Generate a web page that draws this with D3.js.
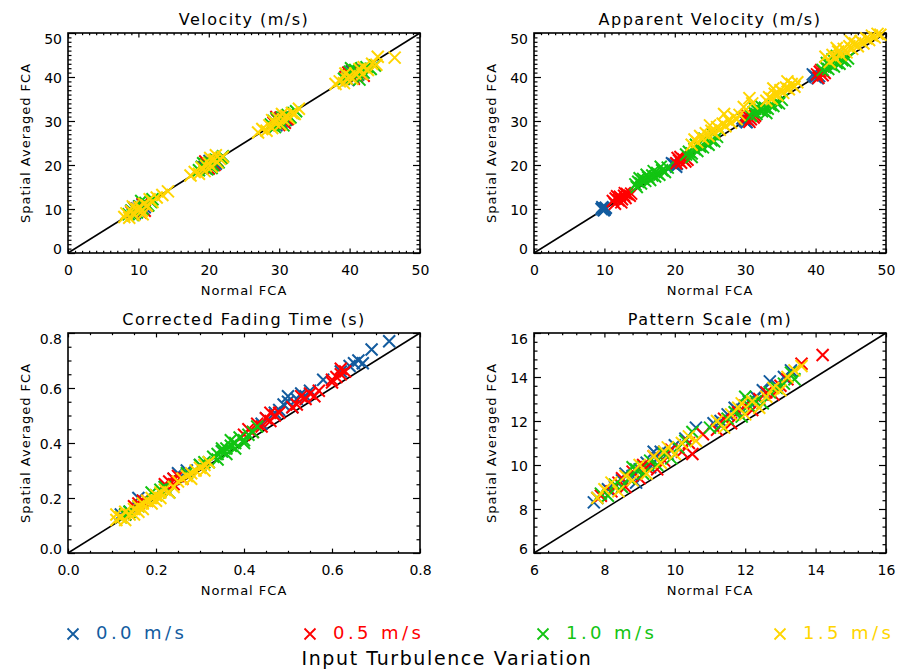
<!DOCTYPE html>
<html><head><meta charset="utf-8">
<script src="https://cdn.jsdelivr.net/npm/d3@7"></script>
<style>
body{margin:0;background:#fff}
svg{display:block}
text{font-family:"DejaVu Sans",sans-serif;fill:#000}
</style>
</head><body>
<svg id="chart" width="898" height="672"></svg>
<script>
// ---------- DATA ----------
const seriesLabels = ["0.0 m/s", "0.5 m/s", "1.0 m/s", "1.5 m/s"];
const seriesColors = ["#135c9f", "#ff0000", "#12c412", "#ffd500"];
const panelTitles = ["Velocity (m/s)", "Apparent Velocity (m/s)", "Corrected Fading Time (s)", "Pattern Scale (m)"];
const xAxisTitle = "Normal FCA";
const yAxisTitle = "Spatial Averaged FCA";
const legendTitle = "Input Turbulence Variation";
const velTicks = [0, 10, 20, 30, 40, 50];
const fadTicks = [0.0, 0.2, 0.4, 0.6, 0.8];
const patTicks = [6, 8, 10, 12, 14, 16];

// Velocity panel
const vel0 = [[9.2,9.4],[9.8,10.1],[10.3,10.0],[10.6,10.9],[9.5,9.0],[10.9,10.4],[10.1,10.6],[9.0,9.6],
 [19.4,19.6],[19.9,20.2],[20.4,19.8],[20.8,20.7],[20.1,20.9],[19.6,19.2],[21.0,20.3],
 [29.3,29.6],[29.8,30.2],[30.3,29.8],[30.7,30.9],[30.2,30.6],[29.6,29.0],[31.0,30.3],
 [39.5,39.8],[40.0,40.4],[40.5,40.0],[40.9,41.0],[40.3,41.3],[39.8,39.3],[41.2,40.5]];
const vel1 = [[9.0,9.3],[9.6,9.8],[10.2,10.4],[10.6,11.2],[10.9,9.6],[10.3,9.2],[11.2,10.8],[9.4,10.3],
 [19.2,19.4],[19.7,20.2],[20.3,20.6],[20.8,20.0],[21.2,21.0],[20.0,19.2],[19.5,20.8],
 [29.2,29.6],[29.7,30.3],[30.2,30.8],[30.8,29.6],[31.2,30.4],[30.0,29.1],[29.6,30.9],
 [39.4,40.0],[40.0,40.6],[40.4,41.6],[41.0,40.2],[41.5,40.9],[42.0,40.3],[40.6,39.6],[39.8,41.0]];
const vel2 = [[8.6,8.8],[9.0,9.6],[9.4,10.2],[9.8,9.2],[10.2,10.6],[10.6,10.0],[11.0,11.4],[11.4,10.8],[11.8,11.6],[9.2,8.6],[10.4,11.8],[12.0,12.2],
 [18.6,18.8],[19.0,19.6],[19.5,20.2],[19.8,19.0],[20.2,20.6],[20.6,20.0],[21.0,21.2],[21.4,20.6],[21.8,21.6],[19.2,20.4],[20.4,19.3],[22.0,22.0],
 [28.8,29.2],[29.2,30.0],[29.6,30.6],[30.0,29.4],[30.4,30.8],[30.8,30.2],[31.2,31.4],[31.6,30.8],[32.0,31.8],[29.4,28.6],[30.6,29.0],[32.4,32.2],
 [39.2,39.6],[39.6,40.4],[40.0,41.2],[40.4,39.8],[40.8,41.6],[41.2,40.6],[41.6,41.8],[42.0,41.0],[42.4,42.2],[40.2,42.0],[43.0,41.8],[43.6,42.6],[41.4,39.4]];
const vel3 = [[8.0,8.2],[8.3,9.0],[8.7,8.0],[9.0,9.5],[9.4,8.6],[9.8,10.0],[10.2,10.4],[10.5,9.6],[10.8,11.2],[11.2,10.8],[11.6,12.2],[12.0,11.6],[12.6,12.6],[13.4,13.2],[14.2,14.0],[9.2,10.6],[10.6,8.8],
 [17.4,17.6],[18.0,18.4],[18.6,18.0],[19.0,19.4],[19.6,19.8],[20.0,20.4],[20.4,19.6],[20.8,21.2],[21.2,20.6],[21.6,21.4],[22.0,21.8],[20.2,21.6],[19.4,18.6],[21.0,22.2],
 [27.0,27.4],[27.6,28.2],[28.2,27.8],[28.6,29.0],[29.0,28.4],[29.4,29.6],[29.8,30.6],[30.2,29.2],[30.6,30.4],[31.0,31.2],[31.4,30.6],[31.8,31.8],[32.2,31.6],[32.8,32.8],[29.0,30.2],[30.4,31.6],
 [38.0,38.4],[38.6,39.0],[39.2,38.6],[39.6,39.6],[40.0,40.2],[40.4,39.6],[40.8,40.8],[41.4,41.8],[42.0,42.2],[42.6,41.6],[43.2,43.0],[43.8,42.8],[44.0,44.6],[46.4,44.4],[41.8,40.6],[39.4,40.8]];

// Apparent velocity panel
const app0 = [[9.6,10.0],[9.8,10.2],[10.0,9.8],[10.1,10.1],[9.9,9.7],[10.2,10.3],[9.7,10.4],
 [19.8,20.2],[20.0,20.0],[20.2,19.6],[19.6,20.4],[20.3,20.3],
 [29.8,30.4],[30.0,30.0],[30.2,29.7],[29.6,30.6],[30.4,30.2],
 [39.8,40.3],[40.0,40.0],[40.3,39.7],[39.6,40.6],[40.5,40.2]];
const app1 = [[11.2,11.8],[11.6,12.4],[12.0,12.0],[12.2,12.8],[12.5,12.2],[12.8,13.0],[13.0,12.5],[13.2,13.4],[11.8,12.9],[12.4,11.5],[13.6,13.0],[11.5,11.2],[12.9,13.6],[13.8,13.5],
 [20.2,20.4],[20.6,21.0],[20.9,20.5],[21.2,21.3],[21.5,20.8],[20.4,21.6],[21.8,21.2],[20.8,21.8],
 [30.0,30.6],[30.4,31.0],[30.8,30.4],[31.2,30.8],[30.6,29.8],[31.4,31.2],[30.2,31.4],
 [40.2,40.6],[40.6,41.2],[41.0,40.4],[41.3,40.9],[40.4,39.8],[40.8,41.6]];
const app2 = [[14.4,15.6],[14.8,16.2],[15.2,15.8],[15.5,16.8],[15.8,16.4],[16.2,17.2],[16.5,16.6],[16.8,17.6],[17.2,17.4],[17.5,18.2],[17.8,17.8],[18.2,18.8],[18.6,18.4],[19.0,19.4],[15.0,17.0],[16.0,17.8],[17.0,18.6],[18.0,19.6],[14.6,15.0],
 [21.6,22.4],[22.0,23.0],[22.4,22.6],[22.8,23.6],[23.2,23.2],[23.6,24.2],[24.0,24.0],[24.4,25.0],[24.8,24.6],[25.2,25.6],[25.6,25.4],[26.0,26.4],[23.0,24.6],[24.2,26.0],[25.4,27.0],[22.4,21.8],
 [30.8,31.2],[31.2,32.0],[31.6,31.6],[32.0,32.6],[32.4,32.2],[32.8,33.0],[33.2,32.8],[33.6,33.6],[34.0,33.4],[34.4,34.2],[34.8,34.0],[35.2,34.8],[32.2,33.4],[31.4,32.8],[33.0,31.8],
 [41.0,41.6],[41.4,42.2],[41.8,41.8],[42.2,42.8],[42.6,42.4],[43.0,43.2],[43.4,43.0],[43.8,43.8],[44.2,43.6],[44.6,44.2],[41.6,43.2],[42.4,44.0],[43.0,44.8]];
const app3 = [[22.4,24.6],[22.8,25.8],[23.2,25.2],[23.6,26.6],[24.0,26.0],[24.4,27.2],[24.8,26.6],[25.2,27.8],[25.6,27.2],[26.0,28.6],[26.4,28.0],[26.8,29.4],[27.2,28.8],[27.6,30.2],[28.0,29.6],[28.4,31.0],[28.8,30.4],[27.0,31.6],[25.0,29.0],[29.2,31.4],[30.6,35.2],[31.0,34.0],[29.8,33.2],
 [33.0,34.6],[33.4,35.4],[33.8,35.0],[34.2,36.2],[34.6,35.8],[35.0,37.0],[35.4,36.4],[35.8,37.6],[36.2,37.2],[36.6,38.4],[37.0,37.8],[37.4,38.8],[34.0,37.4],[36.0,39.0],
 [41.4,44.6],[42.0,43.4],[42.4,45.0],[42.8,44.2],[43.2,45.8],[43.6,45.0],[44.0,46.4],[44.4,45.6],[44.8,47.0],[45.2,46.4],[45.6,47.6],[46.0,47.0],[46.4,48.2],[46.8,47.6],[47.2,48.8],[47.6,48.4],[48.0,49.4],[48.4,49.0],[48.8,49.8],[49.2,49.6],[43.0,46.6],[45.0,48.2]];

// Corrected fading time panel
const fad0 = [[0.12,0.14],[0.14,0.15],[0.17,0.19],[0.16,0.20],[0.22,0.24],[0.25,0.29],[0.27,0.30],[0.24,0.27],[0.30,0.32],[0.35,0.37],[0.44,0.47],
 [0.45,0.49],[0.47,0.51],[0.48,0.52],[0.49,0.54],[0.50,0.55],[0.51,0.53],[0.52,0.56],[0.53,0.58],[0.54,0.57],[0.55,0.59],[0.50,0.57],
 [0.58,0.63],[0.62,0.66],[0.64,0.68],[0.65,0.69],[0.66,0.70],[0.67,0.69],[0.69,0.74],[0.73,0.77]];
const fad1 = [[0.13,0.14],[0.15,0.17],[0.16,0.18],[0.17,0.19],[0.18,0.19],[0.22,0.25],[0.23,0.26],[0.24,0.27],[0.25,0.28],[0.26,0.27],[0.24,0.25],
 [0.40,0.43],[0.41,0.45],[0.42,0.44],[0.43,0.47],[0.44,0.46],[0.45,0.49],[0.46,0.48],[0.47,0.50],[0.48,0.51],[0.46,0.51],
 [0.51,0.53],[0.52,0.54],[0.54,0.56],[0.55,0.58],[0.56,0.57],[0.57,0.59],[0.53,0.57],[0.60,0.63],[0.61,0.64],[0.62,0.65],[0.63,0.66],[0.62,0.67],[0.60,0.62]];
const fad2 = [[0.12,0.13],[0.13,0.14],[0.14,0.15],[0.16,0.17],[0.19,0.22],[0.20,0.21],[0.21,0.23],[0.22,0.24],[0.23,0.22],[0.27,0.29],[0.30,0.32],[0.31,0.33],
 [0.32,0.33],[0.33,0.35],[0.34,0.36],[0.34,0.34],[0.35,0.37],[0.35,0.38],[0.36,0.38],[0.36,0.36],[0.37,0.39],[0.37,0.41],[0.38,0.40],[0.38,0.38],
 [0.39,0.42],[0.40,0.40],[0.40,0.41],[0.41,0.43],[0.42,0.44],[0.43,0.46]];
const fad3 = [[0.11,0.12],[0.11,0.14],[0.12,0.13],[0.13,0.12],[0.13,0.15],[0.14,0.14],[0.15,0.16],[0.15,0.14],[0.16,0.17],[0.16,0.15],[0.17,0.16],[0.17,0.18],
 [0.18,0.19],[0.19,0.18],[0.19,0.20],[0.20,0.21],[0.20,0.19],[0.21,0.20],[0.21,0.22],[0.22,0.23],[0.23,0.22],[0.24,0.24],[0.25,0.26],[0.26,0.27],
 [0.27,0.28],[0.28,0.27],[0.28,0.29],[0.29,0.30],[0.30,0.31],[0.31,0.32],[0.31,0.30],[0.32,0.33]];

// Pattern scale panel
const pat0 = [[7.7,8.3],[7.8,8.5],[8.1,8.9],[8.3,9.0],[8.5,9.3],[8.6,9.6],[8.8,9.5],[8.9,9.2],[9.0,9.8],[9.2,10.1],[9.3,9.9],[9.4,10.6],[9.5,10.3],[9.6,10.6],[9.8,10.5],[10.0,10.9],[10.3,11.2],[10.6,11.7],
 [11.1,11.9],[11.3,12.0],[11.5,12.3],[11.7,12.6],[11.9,12.5],[12.1,12.9],[12.3,13.1],[12.5,13.4],[12.7,13.8],[12.9,13.6],[13.1,14.0],[13.3,14.3]];
const pat1 = [[7.9,8.6],[8.2,8.8],[8.4,9.2],[8.5,9.4],[8.6,9.0],[8.8,9.7],[9.0,9.4],[9.1,10.0],[9.2,9.9],[9.4,10.4],[9.5,9.8],[9.7,10.2],[9.9,10.7],[10.2,10.6],[10.4,11.0],[10.5,10.5],[10.8,11.4],
 [11.2,11.6],[11.4,12.1],[11.6,11.9],[11.8,12.4],[12.0,12.7],[12.2,12.5],[12.4,13.0],[12.6,13.3],[12.8,13.2],[13.0,13.6],[13.2,13.9],[13.6,14.6],[14.2,15.0]];
const pat2 = [[7.9,8.7],[8.1,8.6],[8.3,9.1],[8.5,9.0],[8.7,9.4],[8.8,9.9],[8.9,9.8],[9.1,9.6],[9.3,10.2],[9.5,10.0],[9.7,10.5],[9.9,10.3],[10.1,10.8],[10.3,11.1],[10.5,11.5],
 [11.0,11.7],[11.3,11.8],[11.5,12.1],[11.7,12.4],[11.9,12.2],[12.0,13.1],[12.1,12.7],[12.3,12.9],[12.5,12.8],[12.7,13.3],[12.9,13.5],[13.1,13.7],[13.3,14.2],[13.4,13.9]];
const pat3 = [[7.8,8.5],[8.0,8.9],[8.2,9.2],[8.4,8.8],[8.6,9.5],[8.8,9.3],[9.0,10.0],[9.2,9.6],[9.4,10.4],[9.6,10.1],[9.7,10.6],[9.8,10.8],[10.0,10.5],[10.2,11.0],[10.4,11.3],[10.6,11.1],
 [11.2,12.0],[11.4,11.7],[11.6,12.3],[11.8,12.6],[11.9,12.8],[12.0,12.3],[12.2,12.9],[12.4,12.6],[12.6,13.1],[12.8,13.5],[13.0,13.4],[13.2,14.0],[13.4,14.3],[13.6,14.5]];

// ---------- LAYOUT ----------
const W = 352, H = 220;
const panelDefs = [
  {left: 68,  top: 33,  title: panelTitles[0], ticks: velTicks, minor: 1,   fmt: d3.format("d"),  series: [vel0, vel1, vel2, vel3]},
  {left: 534, top: 33,  title: panelTitles[1], ticks: velTicks, minor: 1,   fmt: d3.format("d"),  series: [app0, app1, app2, app3]},
  {left: 68,  top: 333, title: panelTitles[2], ticks: fadTicks, minor: 0.05, fmt: d3.format(".1f"), series: [fad0, fad1, fad2, fad3]},
  {left: 534, top: 333, title: panelTitles[3], ticks: patTicks, minor: 0.4, fmt: d3.format("d"),  series: [pat0, pat1, pat2, pat3]}
];

const svg = d3.select("#chart");
const MS = 6; // marker half-size
const cross = s => `M${-s},${-s}L${s},${s}M${-s},${s}L${s},${-s}`;

panelDefs.forEach(p => {
  const lo = p.ticks[0], hi = p.ticks[p.ticks.length - 1];
  const x = d3.scaleLinear().domain([lo, hi]).range([0, W]);
  const y = d3.scaleLinear().domain([lo, hi]).range([H, 0]);
  const g = svg.append("g").attr("transform", `translate(${p.left},${p.top})`);

  const nMinor = Math.round((hi - lo) / p.minor);
  const minors = d3.range(0, nMinor + 1).map(i => lo + i * p.minor)
      .filter(v => !p.ticks.some(t => Math.abs(t - v) < p.minor / 10));

  const tickLenX = 4.4, tickLenY = 7;
  const styleAxis = sel => { sel.select(".domain").remove(); sel.selectAll("line").attr("stroke", "#000").attr("stroke-width", 1.2); };

  // minor ticks
  g.append("g").attr("transform", `translate(0,${H})`).call(d3.axisBottom(x).tickValues(minors).tickSize(-tickLenX / 2).tickFormat("")).call(styleAxis);
  g.append("g").call(d3.axisTop(x).tickValues(minors).tickSize(-tickLenX / 2).tickFormat("")).call(styleAxis);
  g.append("g").call(d3.axisLeft(y).tickValues(minors).tickSize(-tickLenY / 2).tickFormat("")).call(styleAxis);
  g.append("g").attr("transform", `translate(${W},0)`).call(d3.axisRight(y).tickValues(minors).tickSize(-tickLenY / 2).tickFormat("")).call(styleAxis);

  // major ticks
  const bx = g.append("g").attr("transform", `translate(0,${H})`)
    .call(d3.axisBottom(x).tickValues(p.ticks).tickSize(-tickLenX).tickFormat(p.fmt)).call(styleAxis);
  bx.selectAll("text").attr("y", 12).attr("dy", "0.71em").attr("font-size", 14).attr("fill", "#000")
    .style("font-family", '"DejaVu Sans",sans-serif');
  g.append("g").call(d3.axisTop(x).tickValues(p.ticks).tickSize(-tickLenX).tickFormat("")).call(styleAxis);
  const ly = g.append("g").call(d3.axisLeft(y).tickValues(p.ticks).tickSize(-tickLenY).tickFormat(p.fmt)).call(styleAxis);
  ly.selectAll("text").attr("x", -6).attr("font-size", 14).attr("fill", "#000")
    .style("font-family", '"DejaVu Sans",sans-serif')
    .attr("dy", (d, i) => i === 0 ? "-0.0em" : (i === p.ticks.length - 1 ? "0.72em" : "0.36em"));
  g.append("g").attr("transform", `translate(${W},0)`).call(d3.axisRight(y).tickValues(p.ticks).tickSize(-tickLenY).tickFormat("")).call(styleAxis);

  // frame
  g.append("rect").attr("width", W).attr("height", H).attr("fill", "none").attr("stroke", "#000").attr("stroke-width", 1.6);

  // diagonal reference line
  g.append("line").attr("x1", x(lo)).attr("y1", y(lo)).attr("x2", x(hi)).attr("y2", y(hi))
    .attr("stroke", "#000").attr("stroke-width", 1.5);

  // markers
  p.series.forEach((pts, si) => {
    g.append("g").selectAll("path").data(pts).join("path")
      .attr("d", cross(MS))
      .attr("transform", d => `translate(${x(d[0])},${y(d[1])})`)
      .attr("fill", "none").attr("stroke", seriesColors[si]).attr("stroke-width", 2);
  });

  // titles
  g.append("text").attr("x", W / 2).attr("y", -8).attr("text-anchor", "middle")
    .attr("font-size", 16).attr("letter-spacing", 1.5).text(p.title);
  g.append("text").attr("x", W / 2).attr("y", H + 42).attr("text-anchor", "middle")
    .attr("font-size", 13).attr("letter-spacing", 1).text(xAxisTitle);
  g.append("text").attr("transform", `translate(-38,${H / 2}) rotate(-90)`).attr("text-anchor", "middle")
    .attr("font-size", 13).attr("letter-spacing", 1).text(yAxisTitle);
});

// ---------- LEGEND ----------
const legendX = [73, 310, 543, 780];
const lg = svg.append("g");
seriesLabels.forEach((lab, i) => {
  lg.append("path").attr("d", cross(5.5)).attr("transform", `translate(${legendX[i]},634)`)
    .attr("fill", "none").attr("stroke", seriesColors[i]).attr("stroke-width", 1.8);
  lg.append("text").attr("x", legendX[i] + 23).attr("y", 639).attr("font-size", 18)
    .attr("textLength", 88).attr("lengthAdjust", "spacing")
    .attr("fill", seriesColors[i]).style("fill", seriesColors[i]).text(lab);
});
lg.append("text").attr("x", 447).attr("y", 665).attr("text-anchor", "middle").attr("font-size", 19)
  .attr("letter-spacing", 1.6).text(legendTitle);
</script>
</body></html>
